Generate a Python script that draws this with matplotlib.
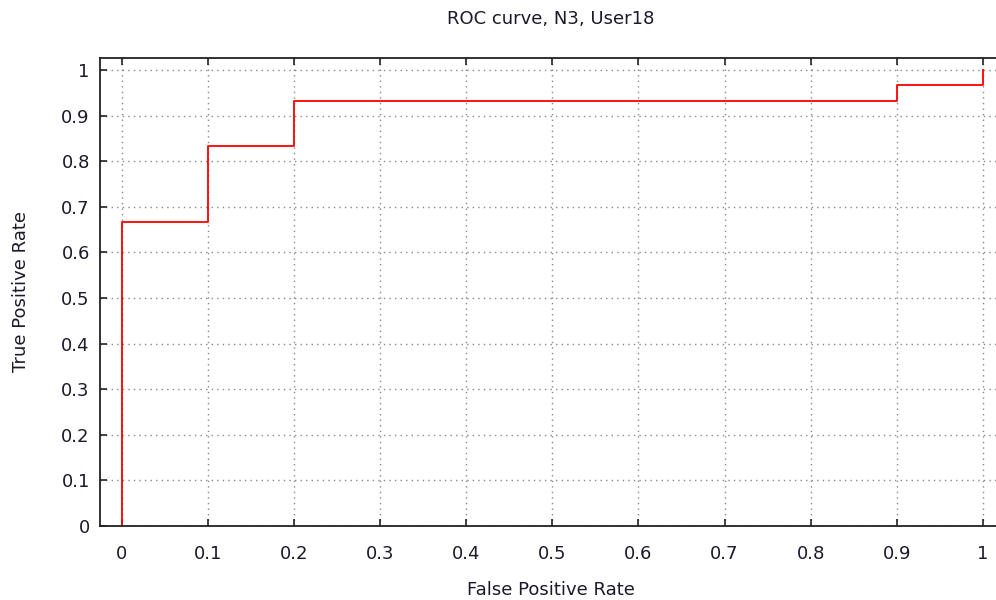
import matplotlib
matplotlib.use("Agg")
import matplotlib.pyplot as plt

# ROC points (step curve)
fpr = [0.0, 0.0, 0.1, 0.1, 0.2, 0.2, 0.9, 0.9, 1.0, 1.0]
tpr = [0.0, 0.667, 0.667, 0.833, 0.833, 0.933, 0.933, 0.967, 0.967, 1.0]

xticks = [0, 0.1, 0.2, 0.3, 0.4, 0.5, 0.6, 0.7, 0.8, 0.9, 1]
yticks = [0, 0.1, 0.2, 0.3, 0.4, 0.5, 0.6, 0.7, 0.8, 0.9, 1]
tick_labels = ["0", "0.1", "0.2", "0.3", "0.4", "0.5", "0.6", "0.7", "0.8", "0.9", "1"]

plt.rcParams['font.family'] = ['DejaVu Sans']
fs = 13
tc = "#1a1a2a"

fig = plt.figure(figsize=(9.96, 6.0), dpi=100)
ax = fig.add_axes([99.5 / 996, 1 - 526 / 600, 1 - 99.5 / 996 + 0.002, (526 - 58) / 600])

ax.plot(fpr, tpr, color="red", lw=1.3)

ax.set_xlim(-0.0258, 1.0175)
ax.set_ylim(0, 1.0265)
ax.set_xticks(xticks)
ax.set_xticklabels(tick_labels, fontsize=fs, color=tc)
ax.set_yticks(yticks)
ax.set_yticklabels(tick_labels, fontsize=fs, color=tc)
ax.tick_params(axis="x", direction="in", length=5, width=1.2, top=True, pad=14, color="#222222")
ax.tick_params(axis="y", direction="in", length=5, width=1.2, right=False, pad=7, color="#222222")

ax.grid(True, color="#888888", linestyle=(0, (1, 3)), lw=1)
ax.set_axisbelow(True)
for s in ax.spines.values():
    s.set_linewidth(1.3)
    s.set_color("#222222")

fig.text(551 / 996, 1 - 19 / 600, "ROC curve, N3, User18", fontsize=fs, color=tc,
         ha="center", va="center")
fig.text(551 / 996, 1 - 590 / 600, "False Positive Rate", fontsize=fs, color=tc,
         ha="center", va="center")
fig.text(21 / 996, 1 - 292 / 600, "True Positive Rate", fontsize=fs, color=tc,
         ha="center", va="center", rotation=90)

fig.savefig("out.png", dpi=100)
